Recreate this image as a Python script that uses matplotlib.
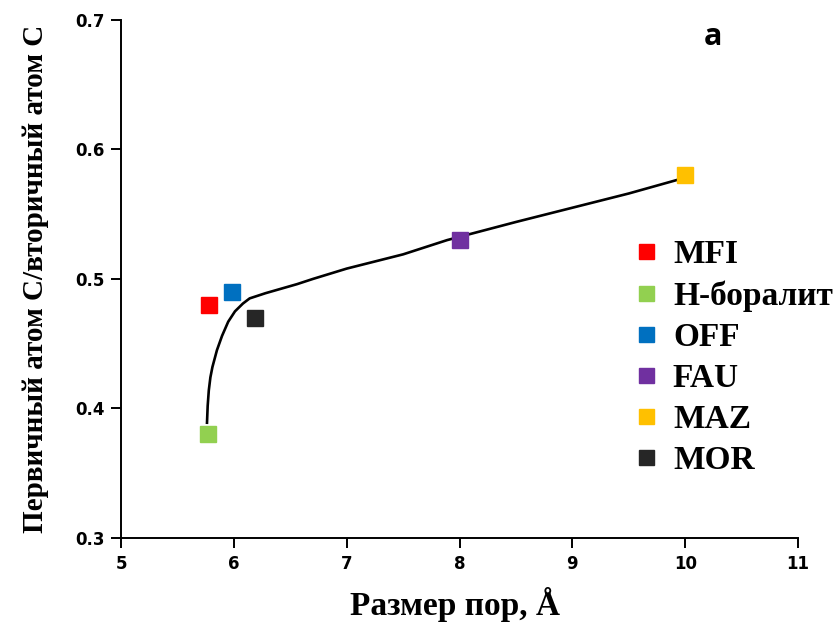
import matplotlib.pyplot as plt
from matplotlib.lines import Line2D

# zeolite points
names = ['MFI', 'H-боралит', 'OFF', 'FAU', 'MAZ', 'MOR']
pore_size = [5.78, 5.77, 5.98, 8.0, 10.0, 6.19]
ratio = [0.48, 0.38, 0.49, 0.53, 0.58, 0.47]
colors = ['#FF0000', '#92D050', '#0070C0', '#7030A0', '#FFC000', '#262626']

# hand-drawn trend curve
curve_x = [5.762, 5.768, 5.778, 5.792, 5.81, 5.85, 5.895, 5.95, 6.01, 6.08,
           6.14, 6.28, 6.56, 6.7, 7.0, 7.5, 7.89, 8.5, 9.0, 9.5, 9.95]
curve_y = [0.389, 0.402, 0.414, 0.424, 0.432, 0.445, 0.456, 0.467, 0.475, 0.481,
           0.485, 0.489, 0.496, 0.500, 0.508, 0.519, 0.530, 0.544, 0.555, 0.566,
           0.577]

fig = plt.figure(figsize=(8.38, 6.28), dpi=100)
ax = fig.add_axes([0.1444, 0.1433, 0.808, 0.825])

ax.plot(curve_x, curve_y, color='black', lw=1.9, zorder=2)
for x, y, c in zip(pore_size, ratio, colors):
    ax.plot(x, y, marker='s', ms=11.5, color=c, mec=c, linestyle='none', zorder=3)

ax.set_xlim(5, 11)
ax.set_ylim(0.3, 0.7)
ax.set_xticks(range(5, 12))
ax.set_yticks([0.3, 0.4, 0.5, 0.6, 0.7])
ax.set_yticklabels(['0.3', '0.4', '0.5', '0.6', '0.7'])
ax.spines['top'].set_visible(False)
ax.spines['right'].set_visible(False)
ax.spines['left'].set_linewidth(1.4)
ax.spines['bottom'].set_linewidth(1.4)
ax.tick_params(direction='out', length=7, width=1.4, labelsize=12, pad=5)
for lab in ax.get_xticklabels() + ax.get_yticklabels():
    lab.set_fontweight('bold')

serif = ['Liberation Serif', 'DejaVu Serif']
ax.set_xlabel('Размер пор, Å', fontsize=24, fontweight='bold', family=serif)
ax.xaxis.set_label_coords(0.494, -0.095)
ax.set_ylabel('Первичный атом С/вторичный атом С', fontsize=21, fontweight='bold',
              family=serif)
ax.yaxis.set_label_coords(-0.106, 0.5)

ax.text(10.247, 0.687, 'a', fontsize=22, fontweight='bold', family='Open Sans',
        ha='center', va='center')

handles = [Line2D([], [], marker='s', ms=10.8, color=c, linestyle='none') for c in colors]
ax.legend(handles, names, loc='upper left', bbox_to_anchor=(0.755, 0.577),
          frameon=False, borderpad=0, borderaxespad=0, handletextpad=0.42,
          labelspacing=0.3, handlelength=0.8,
          prop={'family': serif, 'weight': 'bold', 'size': 24})

fig.savefig('out.png', dpi=100)
